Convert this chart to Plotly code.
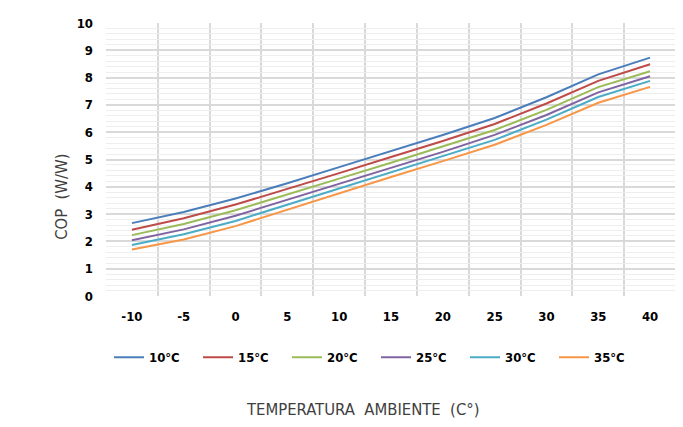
import plotly.graph_objects as go

temps = [-10, -5, 0, 5, 10, 15, 20, 25, 30, 35, 40]
series_names = ["10°C", "15°C", "20°C", "25°C", "30°C", "35°C"]
cop_10 = [2.67, 3.08, 3.57, 4.13, 4.72, 5.30, 5.90, 6.52, 7.28, 8.12, 8.73]
cop_15 = [2.43, 2.85, 3.35, 3.92, 4.50, 5.09, 5.68, 6.30, 7.05, 7.88, 8.49]
cop_20 = [2.23, 2.64, 3.14, 3.71, 4.30, 4.88, 5.47, 6.08, 6.82, 7.65, 8.23]
cop_25 = [2.04, 2.44, 2.94, 3.52, 4.11, 4.70, 5.28, 5.90, 6.63, 7.46, 8.05]
cop_30 = [1.87, 2.26, 2.75, 3.34, 3.94, 4.53, 5.11, 5.72, 6.46, 7.29, 7.88]
cop_35 = [1.70, 2.07, 2.56, 3.16, 3.77, 4.36, 4.94, 5.54, 6.27, 7.08, 7.66]
x_ticks = [-10, -5, 0, 5, 10, 15, 20, 25, 30, 35, 40]
x_grid = [-12.5, -7.5, -2.5, 2.5, 7.5, 12.5, 17.5, 22.5, 27.5, 32.5, 37.5, 42.5]
y_ticks = [0, 1, 2, 3, 4, 5, 6, 7, 8, 9, 10]

colors = ["#4A7EBB", "#BE4B48", "#9BBB59", "#8064A2", "#4BACC6", "#F79646"]
all_series = [cop_10, cop_15, cop_20, cop_25, cop_30, cop_35]

FAM = "DejaVu Sans Condensed, Liberation Sans Narrow, Liberation Sans, Arial"
tick_font = dict(family=FAM, size=13, color="#000000", weight="bold")
title_font = dict(family=FAM, size=16.5, color="#404040")

fig = go.Figure()
for name, vals, col in zip(series_names, all_series, colors):
    fig.add_trace(go.Scatter(x=temps, y=vals, mode="lines", name=name,
                             line=dict(color=col, width=2)))

# page body adds an 8px offset; the figure is sized to fit the 683x427 window
fig.update_layout(
    width=675, height=419,
    margin=dict(l=98, r=7, t=14.5, b=130.5, autoexpand=False),
    plot_bgcolor="white", paper_bgcolor="white",
    showlegend=True,
    legend=dict(orientation="h", x=(109 - 106) / 570, xanchor="left",
                y=(296.5 - 358) / 274, yanchor="middle",
                entrywidth=44, entrywidthmode="pixels",
                font=dict(family=FAM, size=13, color="#000000", weight="bold"),
                bgcolor="rgba(0,0,0,0)"),
    xaxis=dict(range=[-12.5, 42.5], tickmode="array", tickvals=x_ticks,
               ticktext=[str(v) for v in x_ticks],
               showgrid=False, zeroline=False, showline=False, ticks="",
               ticklabelstandoff=11,
               tickfont=tick_font,
               minor=dict(tickmode="array", tickvals=x_grid, showgrid=True,
                          gridcolor="#d9d9d9", gridwidth=2, ticks="")),
    yaxis=dict(range=[0, 10], tickmode="array", tickvals=y_ticks,
               showgrid=True, gridcolor="#d9d9d9", gridwidth=2,
               zeroline=False, showline=False, ticks="",
               ticklabelstandoff=12,
               tickfont=tick_font,
               minor=dict(dtick=0.2, showgrid=True, gridcolor="#eeeeee",
                          gridwidth=1, ticks="")),
    annotations=[
        dict(text="TEMPERATURA  AMBIENTE  (C°)", xref="paper", yref="paper",
             x=(363 - 106) / 570, y=(296.5 - 410) / 274, xanchor="center",
             yanchor="middle", showarrow=False, font=title_font),
        dict(text="COP  (W/W)", xref="paper", yref="paper",
             x=(62 - 106) / 570, y=(296.5 - 197) / 274, xanchor="center",
             yanchor="middle", textangle=-90, showarrow=False, font=title_font),
    ],
)

fig.write_html("out.html")
